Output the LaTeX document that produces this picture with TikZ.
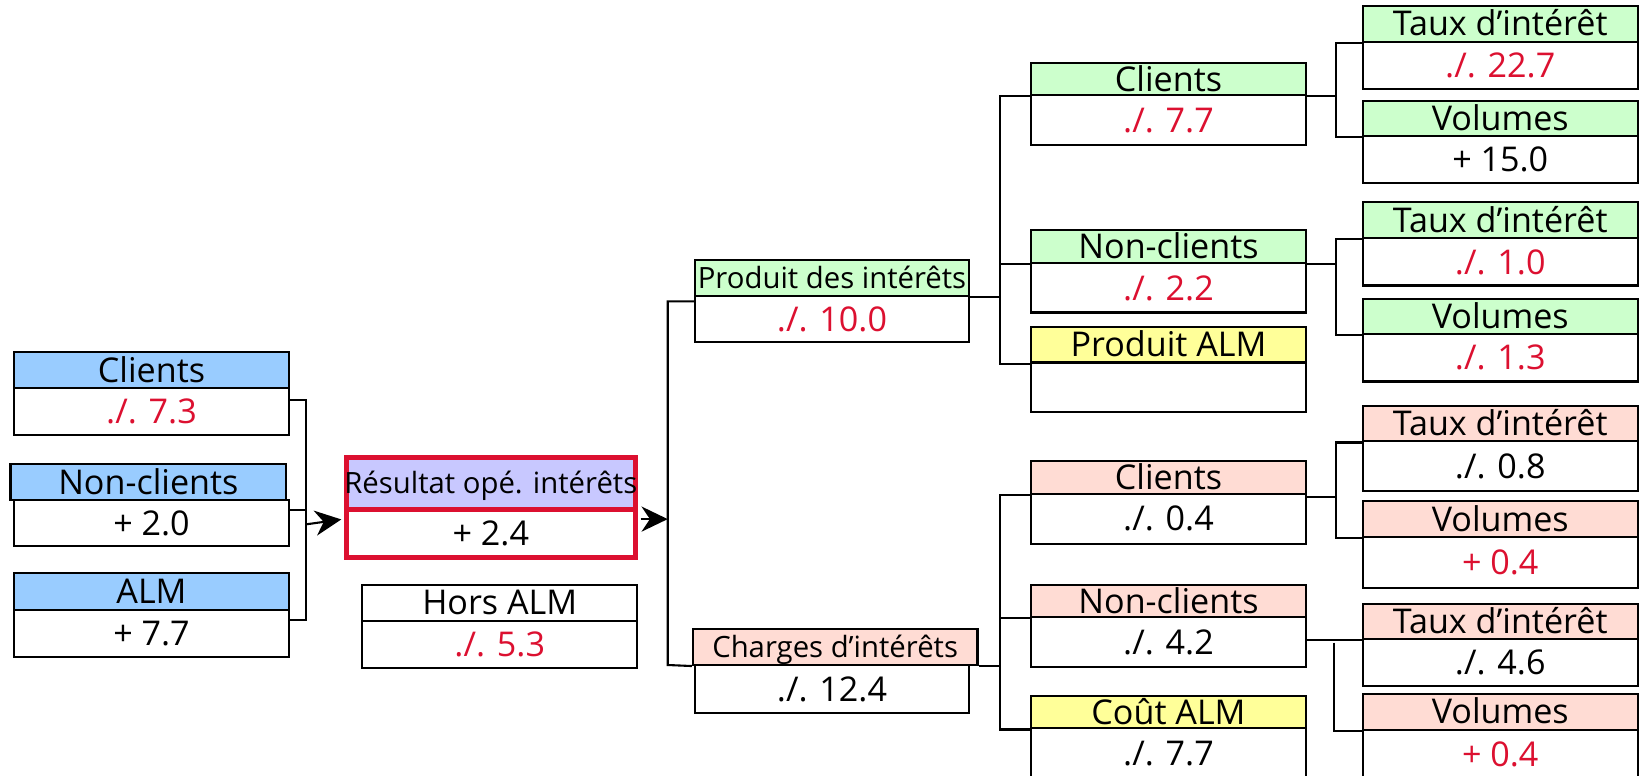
\documentclass[tikz,border=0pt]{standalone}
\usepackage{fontspec}
\setmainfont{Open Sans}
\usetikzlibrary{fit,arrows.meta,calc}
\definecolor{hblue}{RGB}{153,204,255}
\definecolor{hgreen}{RGB}{204,255,204}
\definecolor{hpink}{RGB}{255,220,212}
\definecolor{hyellow}{RGB}{255,255,153}
\definecolor{hlav}{RGB}{200,200,255}
\definecolor{nred}{RGB}{220,16,48}
\tikzset{
  cell/.style={draw=black, line width=1pt, inner sep=0pt, fill=white},
  lbl/.style={inner sep=0pt, font=\fontsize{16.3}{18}\selectfont, text height=11.6pt, text depth=0pt},
  smallt/.style={font=\fontsize{14}{16}\selectfont, text height=10pt},
  neg/.style={text=nred},
  wire/.style={line width=1pt},
  arr/.style={line width=1pt, -{Stealth[length=12.5pt,width=12pt,inset=4pt]}},
  resbox/.style={draw=nred, line width=2.5pt},
}
% name, x1, y1, x2, y2, box style, label style, text
\newcommand\cellbox[8]{%
  \node[cell, fit={(#2,#3)(#4,#5)}, #6] (#1) {};
  \node[lbl, #7] (#1t) at (#1.center) {#8};}
\begin{document}
\begin{tikzpicture}[x=0.5pt,y=-0.5pt]
\path[use as bounding box] (0,0) rectangle (1568,741);
\clip (0,0) rectangle (1568,741);

% left column
\cellbox{l1h}{13}{336}{276.5}{371}{fill=hblue}{}{Clients}
\cellbox{l1v}{13}{371}{276.5}{416}{}{neg}{./. 7.3}
\cellbox{l2h}{10}{443.5}{273.5}{478}{fill=hblue}{}{Non-clients}
\cellbox{l2v}{13}{478}{276.5}{522}{}{}{+ 2.0}
\cellbox{l3h}{13}{547.6}{276.5}{582.6}{fill=hblue}{}{ALM}
\cellbox{l3v}{13}{582.6}{276.5}{627.7}{}{}{+ 7.7}

% result
\cellbox{resh}{331}{437}{607}{487}{fill=hlav,resbox}{smallt}{Résultat opé. intérêts}
\cellbox{resv}{331}{487}{607}{533}{resbox}{}{+ 2.4}
\cellbox{hah}{346}{559}{609}{593}{}{}{Hors ALM}
\cellbox{hav}{346}{593}{609}{638}{}{neg}{./. 5.3}

% second level
\cellbox{prh}{664}{248}{926}{283}{fill=hgreen}{smallt}{Produit des intérêts}
\cellbox{prv}{664}{283}{926}{327}{}{neg}{./. 10.0}
\cellbox{chh}{662}{600.7}{934}{635.4}{fill=hpink}{smallt}{Charges d’intérêts}
\cellbox{chv}{664}{635.4}{926}{681}{}{}{./. 12.4}

% third level
\cellbox{cgh}{985}{60}{1248}{90.7}{fill=hgreen}{}{Clients}
\cellbox{cgv}{985}{90.7}{1248}{138.5}{}{neg}{./. 7.7}
\cellbox{ngh}{985}{219.7}{1248}{251.5}{fill=hgreen}{}{Non-clients}
\cellbox{ngv}{985}{251.5}{1248}{298.6}{}{neg}{./. 2.2}
\cellbox{pah}{985}{312.6}{1248}{346.4}{fill=hyellow}{}{Produit ALM}
\node[cell, fit={(985,346.4)(1248,394)}] (pav) {};
\cellbox{cph}{985}{440.3}{1248}{471.8}{fill=hpink}{}{Clients}
\cellbox{cpv}{985}{471.8}{1248}{519.5}{}{}{./. 0.4}
\cellbox{nph}{985}{558.7}{1248}{589.6}{fill=hpink}{}{Non-clients}
\cellbox{npv}{985}{589.6}{1248}{637.3}{}{}{./. 4.2}
\cellbox{cah}{985}{664.7}{1248}{696}{fill=hyellow}{}{Coût ALM}
\cellbox{cav}{985}{696}{1248}{744}{}{}{./. 7.7}

% fourth level
\cellbox{t1h}{1302}{5.7}{1565}{39.8}{fill=hgreen}{}{Taux d’intérêt}
\cellbox{t1v}{1302}{39.8}{1565}{85.3}{}{neg}{./. 22.7}
\cellbox{v1h}{1302}{96.1}{1565}{129.9}{fill=hgreen}{}{Volumes}
\cellbox{v1v}{1302}{129.9}{1565}{175}{}{}{+ 15.0}
\cellbox{t2h}{1302}{192.6}{1565}{227.6}{fill=hgreen}{}{Taux d’intérêt}
\cellbox{t2v}{1302}{227.6}{1565}{272.8}{}{neg}{./. 1.0}
\cellbox{v2h}{1302}{285.5}{1565}{319.3}{fill=hgreen}{}{Volumes}
\cellbox{v2v}{1302}{319.3}{1565}{364.5}{}{neg}{./. 1.3}
\cellbox{t3h}{1302}{388}{1565}{421.8}{fill=hpink}{}{Taux d’intérêt}
\cellbox{t3v}{1302}{421.8}{1565}{468.9}{}{}{./. 0.8}
\cellbox{v3h}{1302}{479}{1565}{513.1}{fill=hpink}{}{Volumes}
\cellbox{v3v}{1302}{513.1}{1565}{561.9}{}{neg}{+ 0.4}
\cellbox{t4h}{1302}{576.8}{1565}{610.6}{fill=hpink}{}{Taux d’intérêt}
\cellbox{t4v}{1302}{610.6}{1565}{655.8}{}{}{./. 4.6}
\cellbox{v4h}{1302}{662.8}{1565}{697.2}{fill=hpink}{}{Volumes}
\cellbox{v4v}{1302}{697.2}{1565}{744}{}{neg}{+ 0.4}

% spine coordinates
\coordinate (sLt) at (292.5,382);
\coordinate (sLm) at (292.5,487);
\coordinate (sLb) at (292.5,592);
\coordinate (sLa) at (292.5,501);
\coordinate (m1) at (638,288);
\coordinate (m2) at (638,635.4);
\coordinate (p1) at (955.6,0);
\coordinate (r1) at (1276.5,0);
\coordinate (r4) at (1275,0);
\coordinate (rin) at ($(resv.west)+(0,-14)$);
\coordinate (rout) at ($(resv.east)+(2.5,-14)$);
\coordinate (cps) at ($(cph.south east)+(0,2.5)$);
\coordinate (t4s) at ($(t4h.south west -| r4)+(0,2.5)$);

% left bracket
\draw[wire] (l1v.east |- sLt) -- (sLt) -- (sLb) -- (l3v.east |- sLb);
\draw[wire] (l2v.east |- sLm) -- (sLm);
\draw[arr, shorten >=1.2pt] (sLa) -- (rin);
\draw[arr] (rout) -- (rout -| m1);

% middle bracket
\draw[wire] (prv.west |- m1) -- (m1) -- (m2) -- (chh.south west);

% produit bracket
\draw[wire] (prh.south east) -- (prh.south east -| p1);
\draw[wire] (cgh.south west) -- (cgh.south west -| p1) -- (pah.south west -| p1) -- (pah.south west);
\draw[wire] (ngh.south west) -- (ngh.south west -| p1);

% charges bracket
\draw[wire] (chh.south east) -- (chh.south east -| p1);
\draw[wire] (cph.south west) -- (cph.south west -| p1) -- (cah.south west -| p1) -- (cah.south west);
\draw[wire] (nph.south west) -- (nph.south west -| p1);

% right brackets
\draw[wire] (cgh.south east) -- (cgh.south east -| r1);
\draw[wire] (t1h.south west) -- (t1h.south west -| r1) -- (v1h.south west -| r1) -- (v1h.south west);
\draw[wire] (ngh.south east) -- (ngh.south east -| r1);
\draw[wire] (t2h.south west) -- (t2h.south west -| r1) -- (v2h.south west -| r1) -- (v2h.south west);
\draw[wire] (cps) -- (cps -| r1);
\draw[wire] (t3h.south west) -- (t3h.south west -| r1) -- (v3h.south west -| r1) -- (v3h.south west);
\draw[wire] (npv.east |- t4h.south west) -- (t4h.south west);
\draw[wire] (t4s) -- (v4h.south west -| r4) -- (v4h.south west);
\end{tikzpicture}
\end{document}
